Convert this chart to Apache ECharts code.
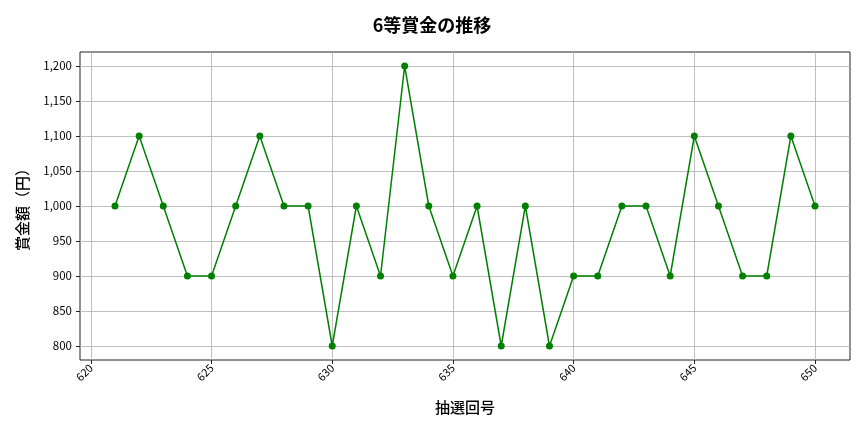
<!DOCTYPE html>
<html>
<head>
<meta charset="utf-8">
<script src="https://cdn.jsdelivr.net/npm/echarts@6/dist/echarts.min.js"></script>
<style>html,body{margin:0;padding:0;background:#fff}#c{width:864px;height:432px}</style>
</head>
<body>
<div id="c"></div>
<script>
const draws = [621,622,623,624,625,626,627,628,629,630,631,632,633,634,635,636,637,638,639,640,641,642,643,644,645,646,647,648,649,650];
const prizes = [1000,1100,1000,900,900,1000,1100,1000,1000,800,1000,900,1200,1000,900,1000,800,1000,800,900,900,1000,1000,900,1100,1000,900,900,1100,1000];
const xTicks = [620,625,630,635,640,645,650];
const yTicks = [800,850,900,950,1000,1050,1100,1150,1200];
const font = '"Noto Sans CJK JP","Noto Sans",sans-serif';
const chart = echarts.init(document.getElementById('c'));
chart.setOption({
  animation:false,
  title:{text:'6等賞金の推移',left:'center',top:11,textStyle:{fontFamily:font,fontSize:18,fontWeight:'bold',color:'#000'}},
  grid:{left:80,right:14,top:52,bottom:72,show:true,borderColor:'#222',borderWidth:1},
  xAxis:{type:'value',min:619.55,max:651.45,
    name:'抽選回号',nameLocation:'middle',nameGap:40,nameTextStyle:{fontFamily:font,fontSize:15,fontWeight:500,color:'#000'},
    axisLine:{show:false},
    axisTick:{show:true,customValues:xTicks,length:4,lineStyle:{color:'#222'}},
    axisLabel:{customValues:xTicks,rotate:45,fontFamily:font,fontSize:11,color:'#000',margin:6,padding:[0,0,0,8]},
    splitLine:{show:true,lineStyle:{color:'#b0b0b0',width:0.8}}},
  yAxis:{type:'value',min:780,max:1220,
    name:'賞金額（円）',nameLocation:'middle',nameGap:50,nameTextStyle:{fontFamily:font,fontSize:15,fontWeight:500,color:'#000'},
    axisLine:{show:false},
    axisTick:{show:true,customValues:yTicks,length:4,lineStyle:{color:'#222'}},
    axisLabel:{customValues:yTicks,fontFamily:font,fontSize:11.5,color:'#000',formatter:v=>v.toLocaleString('en-US')},
    splitLine:{show:true,lineStyle:{color:'#b0b0b0',width:0.8}}},
  series:[{type:'line',data:draws.map((d,i)=>[d,prizes[i]]),symbol:'circle',symbolSize:7,
    lineStyle:{color:'#008000',width:1.5},itemStyle:{color:'#008000'}}]
});
</script>
</body>
</html>
